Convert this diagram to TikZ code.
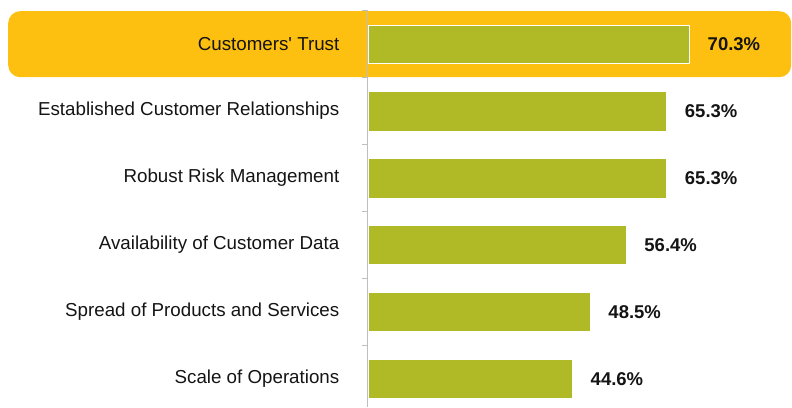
\documentclass[tikz,border=0pt]{standalone}
\usepackage{fontspec}
\setmainfont{Liberation Sans}
\definecolor{hlcol}{HTML}{FDC010}
\definecolor{barcol}{HTML}{B0B926}
\definecolor{axiscol}{HTML}{BFBFBF}
\begin{document}
\begin{tikzpicture}[x=1pt,y=-1pt,
  barbox/.style={fill=barcol, inner sep=0pt, minimum height=38.5pt, anchor=north west},
  lab/.style={anchor=east, inner sep=0pt, font=\fontsize{18.75}{22}\selectfont, text=black!92},
  val/.style={anchor=west, inner sep=0pt, font=\fontsize{18.5}{22}\selectfont\bfseries, text=black!92},
  axisline/.style={draw=axiscol, line width=1.2pt}]
\useasboundingbox (0,0) rectangle (792,407);
% highlight
\node[fill=hlcol, rounded corners=12pt, inner sep=0pt, minimum width=783pt, minimum height=66pt, anchor=north west] (hl) at (8,11) {};
% axis
\coordinate (atop) at (367.8,10);
\coordinate (abot) at (367.8,407);
\draw[axisline] (atop) -- (abot);
\foreach \i in {0,...,5} {
  \coordinate (t\i) at (367.8,10.5+67*\i);
  \draw[axisline] (t\i) -- ++(-5.5,0);
}
% bars
\def\sc{4.552}
\foreach \i/\v/\t in {1/70.3/{Customers\textquotesingle\ Trust},2/65.3/{Established Customer Relationships},3/65.3/{Robust Risk Management},4/56.4/{Availability of Customer Data},5/48.5/{Spread of Products and Services},6/44.6/{Scale of Operations}} {
  \node[barbox, minimum width=\v*\sc pt] (b\i) at (368.6,{25+66.9*(\i-1)}) {};
  \node[val] (v\i) at ([xshift=18.5pt]b\i.east) {\v\%};
  \node[lab] (l\i) at (339.5,{44.2+66.9*(\i-1)}) {\t};
}
\draw[white, line width=1pt] (b1.north west) rectangle (b1.south east);
\end{tikzpicture}
\end{document}
